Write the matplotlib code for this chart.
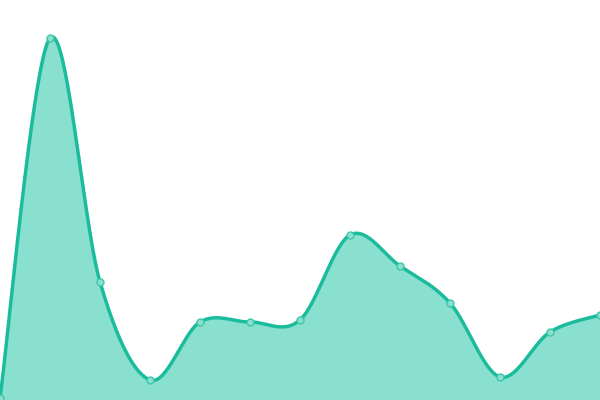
import matplotlib
matplotlib.use("Agg")
import matplotlib.pyplot as plt
import numpy as np

x = [0, 1, 2, 3, 4, 5, 6, 7, 8, 9, 10, 11, 12]
values = [2, 362, 118, 20, 78, 78, 80, 165, 134, 97, 23, 68, 85]


def smooth(xs, ys, n=40):
    xs = np.asarray(xs, float)
    ys = np.asarray(ys, float)
    px = np.concatenate([[xs[0]], xs, [xs[-1]]])
    py = np.concatenate([[ys[0]], ys, [ys[-1]]])
    outx, outy = [], []
    t = np.linspace(0, 1, n)
    for i in range(1, len(px) - 2):
        p0 = np.array([px[i], py[i]])
        p3 = np.array([px[i + 1], py[i + 1]])
        c1 = p0 + (np.array([px[i + 1], py[i + 1]]) - np.array([px[i - 1], py[i - 1]])) / 6
        c2 = p3 - (np.array([px[i + 2], py[i + 2]]) - np.array([px[i], py[i]])) / 6
        b = ((1 - t) ** 3)[:, None] * p0 + (3 * (1 - t) ** 2 * t)[:, None] * c1 \
            + (3 * (1 - t) * t ** 2)[:, None] * c2 + (t ** 3)[:, None] * p3
        outx.extend(b[:, 0])
        outy.extend(b[:, 1])
    return np.array(outx), np.array(outy)


sx, sy = smooth(x, values)

fig = plt.figure(figsize=(6, 4), dpi=100)
ax = fig.add_axes([0, 0, 1, 1])
ax.fill_between(sx, sy, 0, color='#8ae0cf', linewidth=0)
ax.plot(sx, sy, color='#1abc9c', linewidth=2.5, solid_capstyle='round')
ax.plot(x, values, 'o', markersize=5, markerfacecolor='#8ae0cf',
        markeredgecolor='#3cc7a9', markeredgewidth=1)
ax.set_xlim(0, 12)
ax.set_ylim(0, 400)
ax.axis('off')

plt.savefig('out.png', dpi=100)
